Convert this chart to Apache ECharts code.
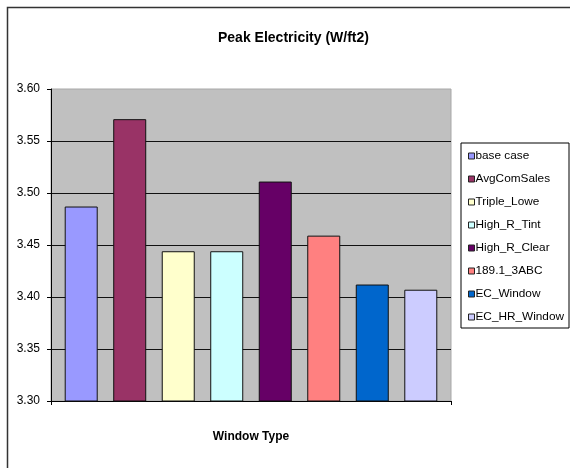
<!DOCTYPE html>
<html>
<head>
<meta charset="utf-8">
<script src="https://cdn.jsdelivr.net/npm/echarts@6/dist/echarts.min.js"></script>
<style>
html, body { margin: 0; padding: 0; background: #fff; }
#main { width: 570px; height: 468px; }
</style>
</head>
<body>
<div id="main"></div>
<script>
var seriesNames = ['base case', 'AvgComSales', 'Triple_Lowe', 'High_R_Tint', 'High_R_Clear', '189.1_3ABC', 'EC_Window', 'EC_HR_Window'];
var peakValues = [3.487, 3.571, 3.444, 3.444, 3.511, 3.459, 3.412, 3.407];
var yTicks = { min: 3.30, max: 3.60, step: 0.05 };
var barColors = ['#9999ff', '#993366', '#ffffcc', '#ccffff', '#660066', '#ff8080', '#0066cc', '#ccccff'];

var font = 'Liberation Sans, Arial, sans-serif';

var series = [];
for (var i = 0; i < seriesNames.length; i++) {
    series.push({
        name: seriesNames[i],
        type: 'bar',
        data: [peakValues[i]],
        barWidth: 33,
        barGap: '47%',
        itemStyle: {
            color: barColors[i],
            borderColor: '#111',
            borderWidth: 1
        }
    });
}

var option = {
    animation: false,
    backgroundColor: '#fff',
    title: {
        text: 'Peak Electricity (W/ft2)',
        left: 213,
        top: 26,
        textStyle: { fontFamily: font, fontSize: 14, fontWeight: 'bold', color: '#000' }
    },
    legend: {
        orient: 'vertical',
        left: 461,
        top: 143,
        padding: [6, 5, 4, 7],
        itemGap: 9,
        itemWidth: 6,
        itemHeight: 6,
        backgroundColor: '#fff',
        borderColor: '#000',
        borderWidth: 1,
        borderRadius: 0,
        icon: 'rect',
        data: seriesNames,
        itemStyle: { borderColor: '#222', borderWidth: 1 },
        textStyle: { fontFamily: font, fontSize: 11.8, color: '#000', lineHeight: 14, padding: [0, 0, 0, -4] }
    },
    grid: {
        left: 51,
        right: 119,
        top: 89,
        bottom: 67,
        show: true,
        backgroundColor: '#c0c0c0',
        borderColor: '#a8a8a8',
        borderWidth: 1
    },
    xAxis: {
        type: 'category',
        data: [''],
        name: 'Window Type',
        nameLocation: 'middle',
        nameGap: 30,
        nameTextStyle: { fontFamily: font, fontSize: 12, fontWeight: 'bold', color: '#000' },
        axisLine: { lineStyle: { color: '#000', width: 1 } },
        axisTick: { show: true, length: 4, lineStyle: { color: '#000' } },
        axisLabel: { show: false }
    },
    yAxis: {
        type: 'value',
        min: yTicks.min,
        max: yTicks.max,
        interval: yTicks.step,
        axisLine: { show: true, lineStyle: { color: '#000', width: 1 } },
        axisTick: { show: true, length: 4, lineStyle: { color: '#000' } },
        axisLabel: {
            margin: 11,
            fontFamily: font,
            fontSize: 12,
            color: '#000',
            formatter: function (v) { return v.toFixed(2); }
        },
        splitLine: { show: true, showMinLine: false, showMaxLine: false, lineStyle: { color: '#111', width: 1 } }
    },
    graphic: [{
        type: 'rect',
        shape: { x: 7.5, y: 7.5, width: 700, height: 700 },
        style: { fill: 'none', stroke: '#333', lineWidth: 1.5 },
        silent: true
    }],
    series: series
};

var chart = echarts.init(document.getElementById('main'));
chart.setOption(option);
</script>
</body>
</html>
